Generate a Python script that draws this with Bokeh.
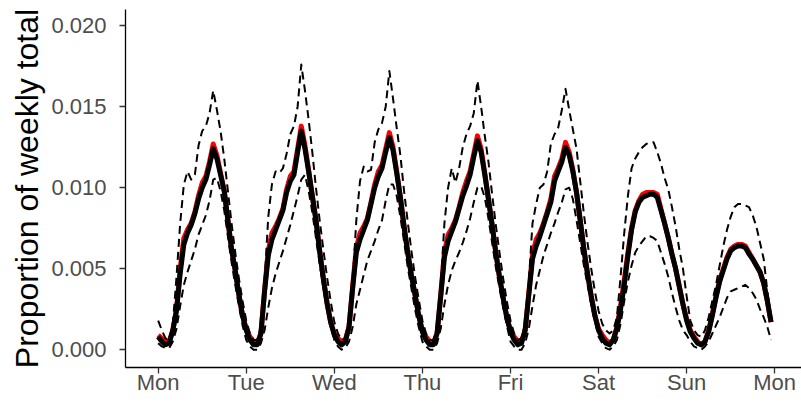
from bokeh.plotting import figure
from bokeh.models import Range1d, FixedTicker, PrintfTickFormatter
from bokeh.embed import file_html
from bokeh.resources import INLINE

# hours since Monday 00:00
hours = list(range(168))

day_ticks = [0, 24, 48, 72, 96, 120, 144, 168]
day_labels = ["Mon", "Tue", "Wed", "Thu", "Fri", "Sat", "Sun", "Mon"]
y_ticks = [0.0, 0.005, 0.010, 0.015, 0.020]

# median (black thick line)
median = [
    0.0008, 0.0005, 0.0003, 0.0004, 0.0012, 0.0024, 0.0047, 0.0065, 0.0072, 0.0077, 0.0084, 0.0093,
    0.0100, 0.0105, 0.0114, 0.0124, 0.0118, 0.0108, 0.0098, 0.0080, 0.0062, 0.0049, 0.0034, 0.0021,
    0.0012, 0.0006, 0.0003, 0.0003, 0.0010, 0.0036, 0.0058, 0.0068, 0.0074, 0.0080, 0.0086, 0.0097,
    0.0104, 0.0108, 0.0122, 0.0135, 0.0124, 0.0110, 0.0095, 0.0080, 0.0061, 0.0044, 0.0029, 0.0017,
    0.0009, 0.0005, 0.0003, 0.0005, 0.0014, 0.0038, 0.0060, 0.0068, 0.0074, 0.0080, 0.0090, 0.0100,
    0.0107, 0.0112, 0.0122, 0.0131, 0.0123, 0.0109, 0.0094, 0.0076, 0.0060, 0.0046, 0.0034, 0.0021,
    0.0011, 0.0006, 0.0003, 0.0003, 0.0010, 0.0033, 0.0057, 0.0067, 0.0073, 0.0079, 0.0087, 0.0095,
    0.0101, 0.0108, 0.0119, 0.0129, 0.0122, 0.0108, 0.0093, 0.0077, 0.0060, 0.0045, 0.0032, 0.0020,
    0.0011, 0.0006, 0.0003, 0.0004, 0.0012, 0.0034, 0.0056, 0.0064, 0.0070, 0.0077, 0.0084, 0.0091,
    0.0104, 0.0110, 0.0116, 0.0125, 0.0120, 0.0110, 0.0097, 0.0080, 0.0062, 0.0047, 0.0033, 0.0021,
    0.0012, 0.0007, 0.0004, 0.0003, 0.0006, 0.0013, 0.0025, 0.0040, 0.0058, 0.0074, 0.0085, 0.0091,
    0.0094, 0.0095, 0.0096, 0.0096, 0.0094, 0.0086, 0.0078, 0.0069, 0.0059, 0.0050, 0.0039, 0.0028,
    0.0018, 0.0011, 0.0007, 0.0004, 0.0003, 0.0005, 0.0011, 0.0021, 0.0032, 0.0042, 0.0049, 0.0056,
    0.0061, 0.0063, 0.0064, 0.0064, 0.0063, 0.0059, 0.0056, 0.0052, 0.0048, 0.0041, 0.0030, 0.0017,
]

# mean (red line, mostly hidden under the median)
mean = [
    0.0009, 0.0007, 0.0005, 0.0005, 0.0012, 0.0025, 0.0050, 0.0069, 0.0074, 0.0078, 0.0085, 0.0095,
    0.0103, 0.0107, 0.0116, 0.0127, 0.0120, 0.0109, 0.0098, 0.0080, 0.0062, 0.0049, 0.0034, 0.0021,
    0.0013, 0.0008, 0.0005, 0.0004, 0.0010, 0.0037, 0.0061, 0.0072, 0.0076, 0.0081, 0.0087, 0.0099,
    0.0107, 0.0110, 0.0124, 0.0138, 0.0126, 0.0111, 0.0095, 0.0080, 0.0061, 0.0044, 0.0029, 0.0017,
    0.0010, 0.0007, 0.0005, 0.0006, 0.0014, 0.0039, 0.0063, 0.0072, 0.0076, 0.0081, 0.0091, 0.0102,
    0.0110, 0.0114, 0.0124, 0.0134, 0.0125, 0.0110, 0.0094, 0.0076, 0.0060, 0.0046, 0.0034, 0.0021,
    0.0012, 0.0008, 0.0005, 0.0004, 0.0010, 0.0034, 0.0060, 0.0071, 0.0075, 0.0080, 0.0088, 0.0097,
    0.0104, 0.0110, 0.0121, 0.0132, 0.0124, 0.0109, 0.0093, 0.0077, 0.0060, 0.0045, 0.0032, 0.0020,
    0.0012, 0.0008, 0.0005, 0.0005, 0.0012, 0.0035, 0.0059, 0.0068, 0.0072, 0.0078, 0.0085, 0.0093,
    0.0107, 0.0112, 0.0118, 0.0128, 0.0122, 0.0111, 0.0097, 0.0080, 0.0062, 0.0047, 0.0033, 0.0021,
    0.0013, 0.0009, 0.0006, 0.0004, 0.0006, 0.0014, 0.0027, 0.0043, 0.0060, 0.0075, 0.0086, 0.0092,
    0.0096, 0.0097, 0.0097, 0.0097, 0.0096, 0.0087, 0.0078, 0.0069, 0.0059, 0.0050, 0.0039, 0.0028,
    0.0019, 0.0012, 0.0008, 0.0005, 0.0003, 0.0005, 0.0012, 0.0022, 0.0033, 0.0043, 0.0050, 0.0057,
    0.0062, 0.0064, 0.0065, 0.0065, 0.0064, 0.0060, 0.0056, 0.0052, 0.0048, 0.0041, 0.0030, 0.0017,
]

# upper dashed line
upper = [
    0.0018, 0.0012, 0.0007, 0.0006, 0.0016, 0.0045, 0.0078, 0.0102, 0.0110, 0.0105, 0.0108, 0.0126,
    0.0135, 0.0138, 0.0146, 0.0160, 0.0148, 0.0135, 0.0118, 0.0098, 0.0078, 0.0060, 0.0044, 0.0030,
    0.0018, 0.0010, 0.0006, 0.0006, 0.0014, 0.0042, 0.0082, 0.0102, 0.0110, 0.0109, 0.0112, 0.0121,
    0.0133, 0.0138, 0.0150, 0.0176, 0.0160, 0.0142, 0.0122, 0.0100, 0.0080, 0.0062, 0.0045, 0.0030,
    0.0017, 0.0010, 0.0006, 0.0007, 0.0016, 0.0042, 0.0080, 0.0104, 0.0113, 0.0110, 0.0111, 0.0128,
    0.0136, 0.0140, 0.0150, 0.0172, 0.0155, 0.0137, 0.0120, 0.0098, 0.0079, 0.0061, 0.0045, 0.0031,
    0.0018, 0.0010, 0.0006, 0.0006, 0.0014, 0.0040, 0.0078, 0.0100, 0.0112, 0.0103, 0.0112, 0.0125,
    0.0133, 0.0138, 0.0146, 0.0166, 0.0150, 0.0132, 0.0116, 0.0096, 0.0077, 0.0060, 0.0044, 0.0030,
    0.0018, 0.0010, 0.0006, 0.0007, 0.0016, 0.0042, 0.0078, 0.0090, 0.0100, 0.0102, 0.0110, 0.0127,
    0.0133, 0.0137, 0.0148, 0.0161, 0.0148, 0.0136, 0.0124, 0.0104, 0.0084, 0.0066, 0.0050, 0.0036,
    0.0024, 0.0016, 0.0012, 0.0010, 0.0012, 0.0020, 0.0045, 0.0072, 0.0095, 0.0112, 0.0118, 0.0122,
    0.0125, 0.0127, 0.0128, 0.0128, 0.0122, 0.0115, 0.0106, 0.0099, 0.0088, 0.0076, 0.0062, 0.0050,
    0.0033, 0.0018, 0.0012, 0.0009, 0.0008, 0.0012, 0.0020, 0.0030, 0.0040, 0.0052, 0.0064, 0.0074,
    0.0082, 0.0088, 0.0090, 0.0090, 0.0089, 0.0088, 0.0083, 0.0076, 0.0066, 0.0056, 0.0036, 0.0020,
]

# lower dashed line
lower = [
    0.0004, 0.0002, 0.0001, 0.0001, 0.0005, 0.0013, 0.0027, 0.0040, 0.0048, 0.0055, 0.0062, 0.0071,
    0.0077, 0.0083, 0.0092, 0.0105, 0.0106, 0.0098, 0.0086, 0.0070, 0.0054, 0.0040, 0.0027, 0.0015,
    0.0006, 0.0002, 0.0000, 0.0000, 0.0004, 0.0012, 0.0026, 0.0038, 0.0047, 0.0054, 0.0061, 0.0069,
    0.0077, 0.0086, 0.0095, 0.0105, 0.0108, 0.0098, 0.0085, 0.0069, 0.0053, 0.0039, 0.0026, 0.0015,
    0.0006, 0.0002, 0.0000, 0.0001, 0.0005, 0.0014, 0.0028, 0.0037, 0.0046, 0.0055, 0.0061, 0.0067,
    0.0074, 0.0080, 0.0092, 0.0102, 0.0102, 0.0095, 0.0082, 0.0067, 0.0051, 0.0038, 0.0025, 0.0014,
    0.0005, 0.0002, 0.0000, 0.0000, 0.0004, 0.0013, 0.0028, 0.0040, 0.0049, 0.0055, 0.0060, 0.0066,
    0.0073, 0.0081, 0.0091, 0.0100, 0.0101, 0.0094, 0.0081, 0.0066, 0.0051, 0.0038, 0.0026, 0.0015,
    0.0005, 0.0002, 0.0000, 0.0000, 0.0004, 0.0013, 0.0027, 0.0040, 0.0049, 0.0058, 0.0065, 0.0072,
    0.0078, 0.0085, 0.0091, 0.0099, 0.0100, 0.0093, 0.0080, 0.0066, 0.0052, 0.0040, 0.0028, 0.0018,
    0.0008, 0.0004, 0.0001, 0.0000, 0.0002, 0.0006, 0.0016, 0.0030, 0.0042, 0.0052, 0.0060, 0.0064,
    0.0067, 0.0070, 0.0070, 0.0069, 0.0067, 0.0060, 0.0053, 0.0045, 0.0035, 0.0026, 0.0018, 0.0012,
    0.0009, 0.0005, 0.0002, 0.0001, 0.0000, 0.0002, 0.0005, 0.0010, 0.0015, 0.0020, 0.0026, 0.0032,
    0.0036, 0.0037, 0.0038, 0.0039, 0.0040, 0.0038, 0.0035, 0.0031, 0.0025, 0.0020, 0.0014, 0.0006,
]

FONT = "Liberation Sans"

p = figure(
    width=801, height=409,
    output_backend="svg", toolbar_location=None,
    x_range=Range1d(-8.9, 175.3), y_range=Range1d(-0.0011, 0.0210),
    min_border_left=125, min_border_right=0, min_border_top=9, min_border_bottom=42,
)
p.outline_line_color = None
p.background_fill_color = "white"
p.border_fill_color = "white"
p.xgrid.visible = False
p.ygrid.visible = False

p.line(hours, mean, line_color="#FF0000", line_width=5, line_join="round")
p.line(hours, median, line_color="black", line_width=5, line_join="round")
p.line(hours, upper, line_color="black", line_width=2, line_dash="8 5", line_join="round")
p.line(hours, lower, line_color="black", line_width=2, line_dash="8 5", line_join="round")

for ax in (p.xaxis[0], p.yaxis[0]):
    ax.axis_line_color = "black"
    ax.axis_line_width = 1.3
    ax.major_tick_line_color = "#333333"
    ax.major_tick_line_width = 1.3
    ax.major_tick_out = 6
    ax.major_tick_in = 0
    ax.minor_tick_line_color = None
    ax.major_label_text_font = FONT
    ax.major_label_text_font_size = "22px"
    ax.major_label_text_color = "#4D4D4D"

p.xaxis.ticker = FixedTicker(ticks=day_ticks)
p.xaxis.major_label_overrides = {t: lab for t, lab in zip(day_ticks, day_labels)}
p.xaxis.major_label_standoff = -4

p.yaxis.ticker = FixedTicker(ticks=y_ticks)
p.yaxis.formatter = PrintfTickFormatter(format="%.3f")
p.yaxis.major_label_standoff = 13
p.yaxis.axis_label = "Proportion of weekly total"
p.yaxis.axis_label_text_font = FONT
p.yaxis.axis_label_text_font_size = "32px"
p.yaxis.axis_label_text_font_style = "normal"
p.yaxis.axis_label_text_color = "black"
p.yaxis.axis_label_standoff = 3

open("out.html", "w").write(file_html(p, INLINE))
